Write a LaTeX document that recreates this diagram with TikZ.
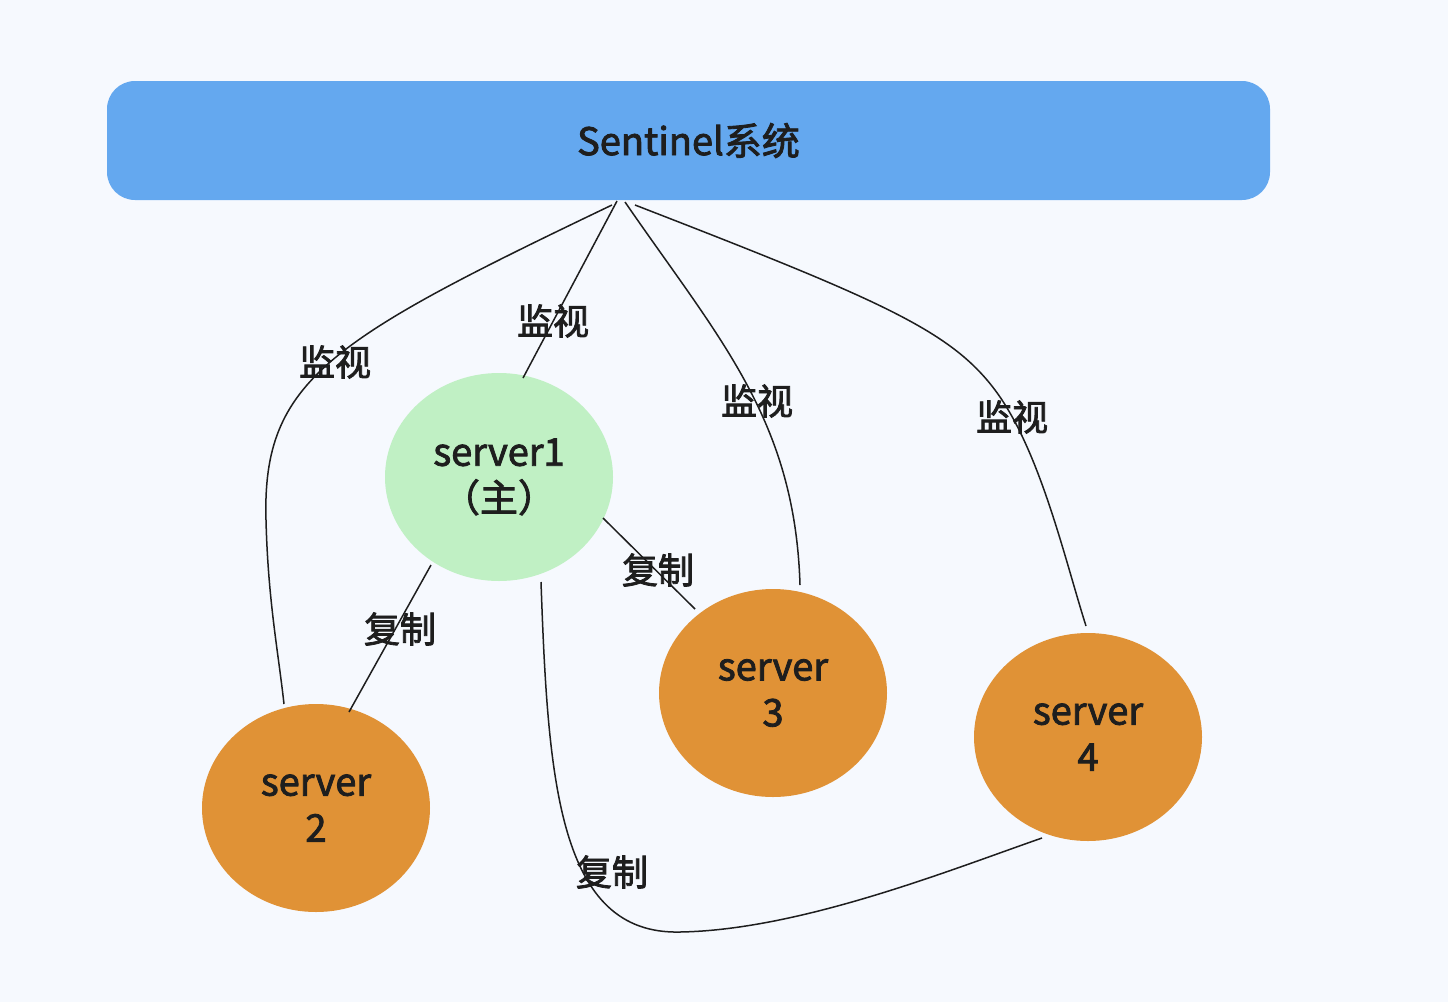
\documentclass[tikz,border=0pt]{standalone}
\usepackage{fontspec}
\setmainfont[FakeBold=2.2]{Noto Sans CJK SC}
\usetikzlibrary{shapes.geometric}
\definecolor{bgc}{HTML}{F6F9FE}
\definecolor{barblue}{HTML}{64A8EF}
\definecolor{mgreen}{HTML}{C0F0C4}
\definecolor{sorange}{HTML}{E09236}
\definecolor{ink}{HTML}{1E1E1E}
\begin{document}
\begin{tikzpicture}[x=1pt,y=-1pt,
  every node/.style={text=ink,font=\fontsize{38}{46}\selectfont},
  srv/.style={ellipse,inner sep=0pt,minimum width=228pt,minimum height=208pt,align=center},
  lbl/.style={inner sep=0pt,font=\fontsize{36}{42}\selectfont},
  conn/.style={draw=ink,line width=1.5pt}]
\fill[bgc] (0,0) rectangle (1448,1002);
\useasboundingbox (0,0) rectangle (1448,1002);
\node (bar) [rectangle,rounded corners=28pt,fill=barblue,minimum width=1163pt,minimum height=119pt,inner sep=0pt] at (688.5,140.5) {Sentinel系统};
\node (s1) [srv,fill=mgreen] at (499,477) {server1\\（主）};
\node (s2) [srv,fill=sorange] at (316,808) {server\\2};
\node (s3) [srv,fill=sorange] at (773,693) {server\\3};
\node (s4) [srv,fill=sorange] at (1088,737) {server\\4};
\coordinate (t1) at (612,205);
\coordinate (t2) at (617,201);
\coordinate (t3) at (625,202);
\coordinate (t4) at (635,205);
\coordinate (e1) at (284,704);
\coordinate (e2) at (523,378);
\coordinate (e3) at (800,585);
\coordinate (e4) at (1086,626);
\coordinate (c1a) at (431,565);
\coordinate (c1b) at (349,712);
\coordinate (c2a) at (603,518);
\coordinate (c2b) at (695,609);
\coordinate (c3a) at (541,582);
\coordinate (c3b) at (1042,838);
% monitoring connectors
\draw[conn] (t1) .. controls (330,340) and (262,380) .. (266,520) .. controls (268,600) and (278,650) .. (e1);
\draw[conn] (t2) -- (e2);
\draw[conn] (t3) .. controls (720,340) and (795,420) .. (e3);
\draw[conn] (t4) .. controls (880,300) and (950,330) .. (995,390) .. controls (1040,450) and (1065,560) .. (e4);
% replication connectors
\draw[conn] (c1a) -- (c1b);
\draw[conn] (c2a) -- (c2b);
\draw[conn] (c3a) .. controls (548,780) and (558,935) .. (680,932) .. controls (800,930) and (950,870) .. (c3b);
% labels
\node (m1) [lbl] at (335,362) {监视};
\node (m2) [lbl] at (553,321) {监视};
\node (m3) [lbl] at (757,401) {监视};
\node (m4) [lbl] at (1012,417) {监视};
\node (r1) [lbl] at (400,629) {复制};
\node (r2) [lbl] at (658,570) {复制};
\node (r3) [lbl] at (612,872) {复制};
\end{tikzpicture}
\end{document}
